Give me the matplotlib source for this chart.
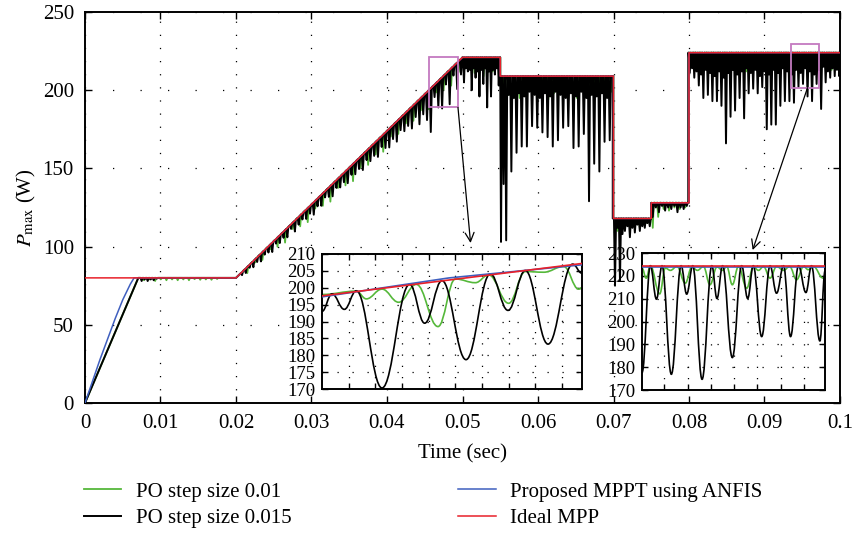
import numpy as np
import matplotlib
matplotlib.use("Agg")
import matplotlib.pyplot as plt
from matplotlib.path import Path
from matplotlib.patches import PathPatch, Rectangle

plt.rcParams['font.family'] = ['Liberation Serif', 'DejaVu Serif']
plt.rcParams['mathtext.fontset'] = 'stix'
FS = 15
FS_IN = 13.5

# ---------------- data ----------------
x_ticks = [0, 0.01, 0.02, 0.03, 0.04, 0.05, 0.06, 0.07, 0.08, 0.09, 0.1]
x_tick_labels = ['0', '0.01', '0.02', '0.03', '0.04', '0.05', '0.06', '0.07', '0.08', '0.09', '0.1']
y_ticks = [0, 50, 100, 150, 200, 250]

# Ideal MPP (red)
ideal_t = [0, 0.02, 0.05, 0.055, 0.055, 0.07, 0.07, 0.075, 0.075, 0.08, 0.08, 0.1]
ideal_p = [80, 80, 221, 221, 209, 209, 118, 118, 128, 128, 224, 224]

# Proposed MPPT using ANFIS (blue)
anfis_t = [0, 0.001, 0.002, 0.003, 0.004, 0.005, 0.006, 0.0065, 0.02, 0.05, 0.055, 0.055,
           0.07, 0.07, 0.075, 0.075, 0.08, 0.08, 0.1]
anfis_p = [0, 14, 28, 41, 54, 66, 76, 80, 80, 221, 221, 209,
           209, 118, 118, 128, 128, 224, 224]

# PO step 0.015 (black) backbone and dips
po15_base_t = [0, 0.00706, 0.02, 0.05, 0.055, 0.055, 0.0699, 0.0699, 0.075, 0.075, 0.0799, 0.0799, 0.1]
po15_base_p = [0, 80, 80, 221, 221, 209, 209, 118, 118, 128, 128, 224, 224]
po15_flat_dips = [78, 79, 78, 79, 78.5, 79.5]
po15_ramp_depth = [2, 3, 2, 4, 3, 5, 3, 4, 6, 3,
                   5, 4, 6, 3, 7, 5, 4, 6, 5, 8,
                   5, 7, 4, 6, 8, 5, 7, 6, 9, 6,
                   8, 7, 10, 6, 9, 8, 11, 7, 10, 12,
                   9, 13, 8, 11, 10, 14, 9, 16, 12, 18,
                   28, 8, 17, 20, 7, 22, 6, 17, 10]
po15_221_dips = [205, 214, 212, 213, 200, 214, 208, 212, 196, 213,
                 204, 214, 189, 212, 196, 213, 210, 214, 203]
po15_209_dips = [103, 140, 104, 197, 148, 195, 160, 198, 164, 196, 164, 199, 177, 197, 176,
                 195, 173, 198, 170, 196, 164, 199, 168, 197, 176, 195, 177, 198, 163, 196,
                 164, 199, 172, 195, 129, 197, 153, 196, 148, 198, 167, 195, 168]
po15_118_dips = [75, 112, 78, 108, 110, 113, 106, 112, 109, 114, 110, 113, 112, 115, 113]
po15_128_dips = [119, 125, 122, 126, 123, 125, 124, 126, 122, 125, 124, 126]
po15_224_dips = [211, 214, 208, 212, 203, 210, 195, 213, 197, 211, 193, 209, 193, 212, 190,
                 208, 166, 211, 183, 213, 187, 210, 195, 212, 182, 214, 198, 211, 201, 213,
                 198, 209, 202, 212, 175, 210, 178, 213, 178, 211, 190, 214, 193, 212, 193,
                 210, 192, 213, 202, 211, 204, 214, 196, 212, 193, 210, 204, 213, 188, 215,
                 205, 212, 208, 214, 209, 213, 209]

# PO step 0.01 (green) backbone and dips
po10_base_t = [0, 0.00706, 0.02, 0.05, 0.055, 0.055, 0.07, 0.07, 0.075, 0.075, 0.08, 0.08, 0.1]
po10_base_p = [0, 80, 80, 221, 221, 209, 209, 118, 118, 128, 128, 224, 224]
po10_flat_dips = [78.5, 79, 78, 79, 78.5, 79, 78.5, 79, 78.5, 79.2, 78.8, 79, 78.8, 79.3]
po10_ramp_depth = [4, 2, 5, 3, 6, 8, 4, 7, 9, 5, 8, 10, 6, 9, 11, 7, 10, 8, 11, 6,
                   9, 7, 10, 8, 12, 6, 9, 11, 7]
po10_221_dips = [214, 216, 211, 215, 209, 214, 212, 216]
po10_209_dips = [200, 197, 203, 195, 199, 202, 196, 200, 194, 198,
                 201, 197, 199, 195, 202, 198, 196, 200, 197, 199]
po10_118_dips = [110, 112, 114, 112, 115]
po10_128_dips = [112, 119, 124, 123, 125, 124, 125]
po10_224_dips = [215, 218, 212, 217, 214, 219, 213, 216, 218, 212, 217, 215, 219, 213,
                 216, 218, 214, 217, 212, 216, 219, 215, 217, 213, 218]

# Zoom boxes on the main plot (time range, power range)
box1_t = [0.0456, 0.0494]
box1_p = [189, 221]
box2_t = [0.0935, 0.0972]
box2_p = [201.6, 229.3]

# Inset 1
in1_xlim = [0.0456, 0.0495]
in1_xticks = [0.0460, 0.0464, 0.0468, 0.0472, 0.0476, 0.0480, 0.0484, 0.0488, 0.0492]
in1_yticks = [170, 175, 180, 185, 190, 195, 200, 205, 210]
in1_ideal_t = [0.0456, 0.0495]
in1_ideal_p = [197.6, 207.2]
in1_anfis_t = [0.0456, 0.0475, 0.0495]
in1_anfis_p = [197.3, 202.9, 206.8]
in1_po15_t = [0.0456, 0.04575, 0.045935, 0.046115, 0.0465, 0.046915, 0.04714, 0.0474,
              0.04776, 0.048125, 0.04839, 0.04865, 0.04899, 0.04936, 0.0495]
in1_po15_p = [193.0, 198.2, 193.6, 199.1, 170.3, 201.0, 189.5, 202.1,
              178.7, 204.1, 193.3, 205.1, 183.3, 207.0, 204.3]
in1_po10_t = [0.0456, 0.046115, 0.046265, 0.0465, 0.04675, 0.047015, 0.04734, 0.0476,
              0.0479, 0.0481, 0.0484, 0.04865, 0.048925, 0.049225, 0.04945, 0.0495]
in1_po10_p = [198.0, 199.0, 196.7, 199.6, 195.7, 201.0, 188.5, 202.6,
              201.5, 203.8, 195.4, 204.8, 204.6, 206.3, 199.6, 200.0]

# Inset 2
in2_xlim = [0.09352, 0.09745]
in2_xticks = [0.0940, 0.0945, 0.0950, 0.0955, 0.0960, 0.0965, 0.0970]
in2_yticks = [170, 180, 190, 200, 210, 220, 230]
in2_ideal_t = [0.09352, 0.09745]
in2_ideal_p = [224.5, 224.5]
in2_anfis_t = [0.09352, 0.09745]
in2_anfis_p = [224.0, 224.0]
in2_po15_t = [0.09352, 0.09370, 0.09383, 0.09395, 0.09415, 0.09436, 0.09448, 0.09461,
              0.09481, 0.09502, 0.09513, 0.09525, 0.09546, 0.09566, 0.09579, 0.09591,
              0.09609, 0.09627, 0.09641, 0.09656, 0.09671, 0.09688, 0.09704, 0.09716,
              0.09734, 0.09745]
in2_po15_p = [177.6, 224.4, 209.8, 224.4, 176.9, 224.4, 212.0, 224.4,
              174.7, 224.4, 210.1, 224.4, 184.2, 224.4, 210.1, 224.4,
              193.4, 224.4, 212.4, 224.4, 193.4, 224.4, 212.7, 224.4,
              191.5, 222.0]
in2_po10_t = [0.09352, 0.09361, 0.09370, 0.09390, 0.09402, 0.09413, 0.09427, 0.09445,
              0.09459, 0.09471, 0.09484, 0.09498, 0.09513, 0.09525, 0.09534, 0.09546,
              0.09559, 0.09577, 0.09591, 0.09602, 0.09613, 0.09627, 0.09641, 0.09656,
              0.09669, 0.09684, 0.09699, 0.09709, 0.09720, 0.09741, 0.09745]
in2_po10_p = [223.4, 219.0, 224.4, 212.1, 223.4, 222.4, 224.1, 216.8,
              223.9, 222.4, 224.1, 216.1, 223.9, 222.4, 224.1, 216.1,
              224.1, 214.6, 224.1, 222.4, 224.1, 219.0, 224.1, 222.4,
              224.1, 218.3, 224.1, 222.7, 224.1, 219.0, 219.8]

labels = ['PO step size 0.01', 'PO step size 0.015', 'Proposed MPPT using ANFIS', 'Ideal MPP']
colors = ['#55b83a', '#000000', '#3f5fbf', '#e8202a']
box_color = '#c47ac0'


# ---------------- helpers ----------------
def segment_times(t0, t1, vals):
    return np.linspace(t0, t1, len(vals))


def spiky(base_t, base_p, trough_t, trough_p, hw):
    bt = np.asarray(base_t, float)
    bp = np.asarray(base_p, float)
    tt = np.asarray(trough_t, float)
    tp = np.asarray(trough_p, float)
    left, right = tt - hw, tt + hw
    vt = np.column_stack([left, tt, right]).ravel()
    vp = np.column_stack([np.interp(left, bt, bp), tp, np.interp(right, bt, bp)]).ravel()
    t = np.concatenate([bt, vt])
    p = np.concatenate([bp, vp])
    order = np.argsort(t, kind='stable')
    return t[order], p[order]


def smooth_curve(ax, ts, vs, color, lw, z):
    verts = [(ts[0], vs[0])]
    codes = [Path.MOVETO]
    for i in range(1, len(ts)):
        dx = ts[i] - ts[i - 1]
        verts += [(ts[i - 1] + 0.4 * dx, vs[i - 1]), (ts[i] - 0.4 * dx, vs[i]), (ts[i], vs[i])]
        codes += [Path.CURVE4] * 3
    ax.add_patch(PathPatch(Path(verts, codes), facecolor='none', edgecolor=color,
                           lw=lw, zorder=z, clip_on=True))


# trough assembly
ramp_t15 = segment_times(0.0208, 0.0498, po15_ramp_depth)
ramp_p15 = np.interp(ramp_t15, ideal_t[:3], ideal_p[:3]) - np.asarray(po15_ramp_depth)
po15_tt = np.concatenate([segment_times(0.0075, 0.0095, po15_flat_dips), ramp_t15,
                          segment_times(0.0502, 0.0548, po15_221_dips),
                          segment_times(0.0551, 0.0695, po15_209_dips),
                          segment_times(0.0702, 0.0748, po15_118_dips),
                          segment_times(0.0752, 0.0797, po15_128_dips),
                          segment_times(0.0801, 0.0999, po15_224_dips)])
po15_tp = np.concatenate([po15_flat_dips, ramp_p15, po15_221_dips, po15_209_dips,
                          po15_118_dips, po15_128_dips, po15_224_dips])

ramp_t10 = segment_times(0.0215, 0.0495, po10_ramp_depth)
ramp_p10 = np.interp(ramp_t10, ideal_t[:3], ideal_p[:3]) - np.asarray(po10_ramp_depth)
po10_tt = np.concatenate([segment_times(0.0078, 0.0175, po10_flat_dips), ramp_t10,
                          segment_times(0.0504, 0.0546, po10_221_dips),
                          segment_times(0.0553, 0.0697, po10_209_dips),
                          segment_times(0.0705, 0.0745, po10_118_dips),
                          segment_times(0.0752, 0.0795, po10_128_dips),
                          segment_times(0.0803, 0.0997, po10_224_dips)])
po10_tp = np.concatenate([po10_flat_dips, ramp_p10, po10_221_dips, po10_209_dips,
                          po10_118_dips, po10_128_dips, po10_224_dips])

b_t, b_p = spiky(po15_base_t, po15_base_p, po15_tt, po15_tp, 0.00014)
g_t, g_p = spiky(po10_base_t, po10_base_p, po10_tt, po10_tp, 0.00014)

# ---------------- figure ----------------
W, H = 853, 538
fig = plt.figure(figsize=(W / 100, H / 100), dpi=100)
ax = fig.add_axes([85 / W, 1 - 403 / H, 755 / W, 391 / H])

l_g, = ax.plot(g_t, g_p, color=colors[0], lw=1.3, zorder=2, label=labels[0])
l_k, = ax.plot(b_t, b_p, color=colors[1], lw=1.4, zorder=3, label=labels[1])
l_b, = ax.plot(anfis_t, anfis_p, color=colors[2], lw=1.1, zorder=4, label=labels[2])
l_r, = ax.plot(ideal_t, ideal_p, color=colors[3], lw=1.1, zorder=5, label=labels[3])

ax.set_xlim(0, 0.1)
ax.set_ylim(0, 250)
ax.set_xticks(x_ticks)
ax.set_xticklabels(x_tick_labels)
ax.set_yticks(y_ticks)
ax.tick_params(direction='in', top=True, right=True, length=5, width=1, labelsize=FS)
ax.tick_params(axis='x', pad=8)
ax.tick_params(axis='y', pad=8)
for s in ax.spines.values():
    s.set_linewidth(1.4)
ax.xaxis.grid(True, color='k', lw=0.9, linestyle=(0, (1, 9.5)))
ax.yaxis.grid(True, color='k', lw=0.9, linestyle=(0, (1, 21)))
ax.set_axisbelow(True)
ax.set_xlabel('Time (sec)', fontsize=FS)
ax.set_ylabel(r'$P_{\mathrm{max}}$ (W)', fontsize=FS)
ax.xaxis.set_label_coords(0.5, -0.105)
ax.yaxis.set_label_coords(-0.062, 0.5)

# zoom boxes
for bt, bp in [(box1_t, box1_p), (box2_t, box2_p)]:
    ax.add_patch(Rectangle((bt[0], bp[0]), bt[1] - bt[0], bp[1] - bp[0], fill=False,
                           edgecolor=box_color, lw=1.3, zorder=6))

# arrows
arrow_props = dict(arrowstyle='->', lw=0.9, color='k', shrinkA=0, shrinkB=0, mutation_scale=16)
ax.annotate('', xy=(0.05107, 102.3), xytext=(box1_t[1], box1_p[0]), arrowprops=arrow_props, zorder=7)
ax.annotate('', xy=(0.08843, 97.8), xytext=(0.0957, box2_p[0]), arrowprops=arrow_props, zorder=7)


def style_inset(ia, xlim, xticks, ylim, yticks):
    ia.set_xlim(*xlim)
    ia.set_ylim(*ylim)
    ia.set_xticks(xticks)
    ia.set_xticklabels([])
    ia.set_yticks(yticks)
    ia.tick_params(direction='in', top=True, right=True, length=4, width=1,
                   labelsize=FS_IN, pad=5)
    ia.xaxis.grid(True, color='k', lw=0.9, linestyle=(0, (1, 8)))
    ia.yaxis.grid(True, color='k', lw=0.9, linestyle=(0, (1, 11)))
    ia.set_axisbelow(True)
    for s in ia.spines.values():
        s.set_linewidth(1.4)
    for lab in ia.get_yticklabels():
        lab.set_verticalalignment('center_baseline')


ia1 = fig.add_axes([322 / W, 1 - 389 / H, 260 / W, 135 / H], zorder=10)
style_inset(ia1, in1_xlim, in1_xticks, (170, 210), in1_yticks)
smooth_curve(ia1, in1_po10_t, in1_po10_p, colors[0], 1.2, 2)
smooth_curve(ia1, in1_po15_t, in1_po15_p, colors[1], 1.2, 3)
ia1.plot(in1_anfis_t, in1_anfis_p, color=colors[2], lw=1.2, zorder=4)
ia1.plot(in1_ideal_t, in1_ideal_p, color=colors[3], lw=1.2, zorder=5)

ia2 = fig.add_axes([642 / W, 1 - 390 / H, 183 / W, 137 / H], zorder=10)
style_inset(ia2, in2_xlim, in2_xticks, (170, 230), in2_yticks)
smooth_curve(ia2, in2_po10_t, in2_po10_p, colors[0], 1.2, 2)
smooth_curve(ia2, in2_po15_t, in2_po15_p, colors[1], 1.2, 3)
ia2.plot(in2_anfis_t, in2_anfis_p, color=colors[2], lw=1.2, zorder=4)
ia2.plot(in2_ideal_t, in2_ideal_p, color=colors[3], lw=1.2, zorder=5)

fig.legend(handles=[l_g, l_k, l_b, l_r], labels=labels, ncol=2, loc='upper left',
           bbox_to_anchor=(84 / W, 1 - 482 / H), frameon=False, fontsize=FS,
           handlelength=1.8, handletextpad=0.7, columnspacing=8.0, labelspacing=0.35,
           borderpad=0, borderaxespad=0)

fig.savefig('out.png', dpi=100)
